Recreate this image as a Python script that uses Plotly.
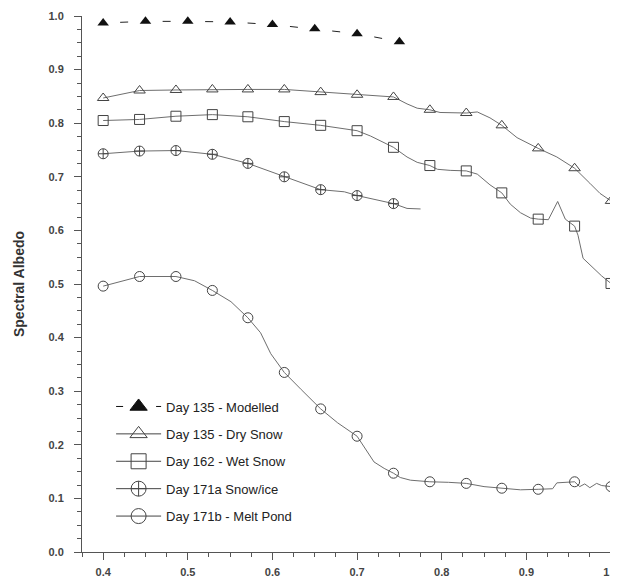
import plotly.graph_objects as go

# ---------------- data ----------------
# wavelengths (micrometres) at which markers are drawn on measured curves
MARK_WL = [0.400, 0.443, 0.486, 0.529, 0.571, 0.614, 0.657, 0.700,
           0.743, 0.786, 0.829, 0.871, 0.914, 0.957, 1.000]

# Day 135 - Modelled
MOD_WL = [0.40, 0.45, 0.50, 0.55, 0.60, 0.65, 0.70, 0.75]
MOD_ALB = [0.987, 0.990, 0.990, 0.989, 0.984, 0.976, 0.967, 0.952]

# Day 135 - Dry Snow
DRY_MARK = [0.847, 0.861, 0.862, 0.863, 0.863, 0.863, 0.858, 0.853,
            0.849, 0.825, 0.819, 0.796, 0.753, 0.716, 0.655]
DRY_EXTRA_WL = [0.724, 0.759, 0.771, 0.798, 0.842, 0.857, 0.889, 0.936, 0.975, 0.987]
DRY_EXTRA_ALB = [0.850, 0.836, 0.828, 0.820, 0.821, 0.810, 0.773, 0.737, 0.688, 0.669]

# Day 162 - Wet Snow
WET_MARK = [0.805, 0.807, 0.813, 0.816, 0.812, 0.803, 0.796, 0.786,
            0.755, 0.721, 0.711, 0.670, 0.621, 0.608, 0.501]
WET_EXTRA_WL = [0.716, 0.728, 0.759, 0.771, 0.795, 0.810, 0.842, 0.857, 0.881,
                0.893, 0.905, 0.926, 0.937, 0.946, 0.961, 0.967, 0.979, 0.989]
WET_EXTRA_ALB = [0.776, 0.766, 0.737, 0.727, 0.714, 0.712, 0.705, 0.685, 0.649,
                 0.633, 0.623, 0.620, 0.654, 0.621, 0.591, 0.548, 0.530, 0.515]

# Day 171a Snow/ice (measured only up to ~0.775)
ICE_MARK = [0.743, 0.748, 0.749, 0.742, 0.725, 0.700, 0.676, 0.665, 0.650]
ICE_EXTRA_WL = [0.685, 0.759, 0.775]
ICE_EXTRA_ALB = [0.672, 0.641, 0.640]

# Day 171b - Melt Pond
POND_MARK = [0.496, 0.514, 0.514, 0.488, 0.437, 0.335, 0.267, 0.216,
             0.147, 0.131, 0.128, 0.119, 0.117, 0.131, 0.122]
POND_EXTRA_WL = [0.508, 0.551, 0.586, 0.598, 0.634, 0.677, 0.720, 0.732, 0.751, 0.763,
                 0.808, 0.850, 0.893, 0.931, 0.936, 0.963, 0.969, 0.975, 0.983, 0.989]
POND_EXTRA_ALB = [0.506, 0.467, 0.409, 0.370, 0.303, 0.241, 0.168, 0.156, 0.139, 0.134,
                  0.130, 0.122, 0.116, 0.118, 0.129, 0.122, 0.127, 0.120, 0.128, 0.124]

NAMES = ["Day 135 - Modelled", "Day 135 - Dry Snow", "Day 162 - Wet Snow",
         "Day 171a Snow/ice", "Day 171b - Melt Pond"]

X_TICKS = [0.4, 0.5, 0.6, 0.7, 0.8, 0.9, 1.0]
Y_TICKS = [0.0, 0.1, 0.2, 0.3, 0.4, 0.5, 0.6, 0.7, 0.8, 0.9, 1.0]

# ---------------- styling ----------------
FONT = "Liberation Sans, Arial, sans-serif"
LINE_C = "#6e6e6e"
MARK_C = "#444444"
AX_C = "#555555"


def merged(mark_wl, mark_alb, extra_wl, extra_alb):
    pts = sorted(list(zip(mark_wl, mark_alb)) + list(zip(extra_wl, extra_alb)))
    return [p[0] for p in pts], [p[1] for p in pts]


fig = go.Figure()

# Modelled: dashed line + filled triangles
fig.add_trace(go.Scatter(
    x=MOD_WL, y=MOD_ALB, mode="lines+markers", showlegend=False,
    line=dict(color="#222222", width=1, dash="0px,17px,8px,17.5px"),
    marker=dict(symbol="triangle-up", size=10, color="#111111"),
    cliponaxis=False))

measured = [
    (NAMES[1], DRY_MARK, DRY_EXTRA_WL, DRY_EXTRA_ALB, "triangle-up-open"),
    (NAMES[2], WET_MARK, WET_EXTRA_WL, WET_EXTRA_ALB, "square-open"),
    (NAMES[3], ICE_MARK, ICE_EXTRA_WL, ICE_EXTRA_ALB, "circle-cross-open"),
    (NAMES[4], POND_MARK, POND_EXTRA_WL, POND_EXTRA_ALB, "circle-open"),
]

for name, mk, ex_wl, ex_alb, sym in measured:
    mwl = MARK_WL[:len(mk)]
    lx, ly = merged(mwl, mk, ex_wl, ex_alb)
    fig.add_trace(go.Scatter(x=lx, y=ly, mode="lines", showlegend=False,
                             line=dict(color=LINE_C, width=1), cliponaxis=False))
    fig.add_trace(go.Scatter(x=mwl, y=mk, mode="markers", showlegend=False,
                             marker=dict(symbol=sym, size=10, color=MARK_C,
                                         line=dict(width=1, color=MARK_C)),
                             cliponaxis=False))

# legend entries
legend_styles = [
    (NAMES[0], "triangle-up", dict(color="#111111", width=1, dash="7px,13px"), "#111111"),
    (NAMES[1], "triangle-up-open", dict(color=MARK_C, width=1), MARK_C),
    (NAMES[2], "square-open", dict(color=MARK_C, width=1), MARK_C),
    (NAMES[3], "circle-cross-open", dict(color=MARK_C, width=1), MARK_C),
    (NAMES[4], "circle-open", dict(color=MARK_C, width=1), MARK_C),
]
for i, (name, sym, ln, mc) in enumerate(legend_styles):
    fig.add_trace(go.Scatter(x=[None], y=[None], mode="lines+markers", name=name,
                             legendgroup=f"g{i}", line=ln,
                             marker=dict(symbol=sym, size=15, color=mc,
                                         line=dict(width=1, color=mc))))

# the page body adds an 8 px offset, so the figure is 8 px smaller and shifted
fig.update_layout(
    width=610, height=571,
    margin=dict(l=74, r=7, t=8, b=27),
    paper_bgcolor="white", plot_bgcolor="white",
    font=dict(family=FONT, color="#222222"),
    legend=dict(x=0.055, y=0.2994, xanchor="left", yanchor="top",
                bgcolor="rgba(0,0,0,0)", font=dict(size=13, color="#222222"),
                traceorder="grouped", tracegroupgap=7.5, itemwidth=45),
    showlegend=True,
)

fig.update_xaxes(
    range=[0.375, 1.0], tickvals=X_TICKS, ticktext=[f"{v:.1f}" for v in X_TICKS],
    showgrid=False, zeroline=False, showline=True, linecolor=AX_C, linewidth=1,
    ticks="outside", ticklen=7, tickcolor=AX_C, automargin=False,
    ticklabeloverflow="allow", ticklabelstandoff=3,
    tickfont=dict(size=11, color="#444444", family="Liberation Sans, Arial", weight="bold"),
    minor=dict(dtick=0.025, tick0=0.375, ticks="outside", ticklen=4, tickcolor=AX_C),
    fixedrange=True)

fig.update_yaxes(
    range=[0.0, 1.0], tickvals=Y_TICKS, ticktext=[f"{v:.1f}" for v in Y_TICKS],
    showgrid=False, zeroline=False, showline=True, linecolor=AX_C, linewidth=1,
    ticks="outside", ticklen=7, tickcolor=AX_C, ticklabelstandoff=8,
    tickfont=dict(size=11, color="#444444", family="Liberation Sans, Arial", weight="bold"),
    automargin=False,
    minor=dict(dtick=0.025, tick0=0.0, ticks="outside", ticklen=4, tickcolor=AX_C),
    title=dict(text="<b>Spectral Albedo</b>", font=dict(size=14, color="#333333"),
               standoff=20),
    fixedrange=True)

fig.write_html("out.html")
